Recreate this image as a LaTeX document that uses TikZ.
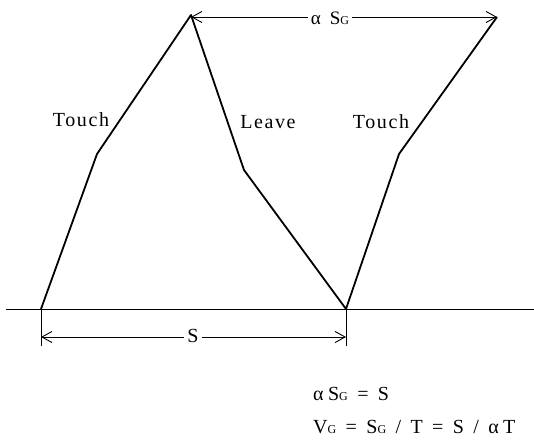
\documentclass[tikz,border=0pt]{standalone}
\usepackage{fontspec}
\setmainfont{Liberation Serif}
\newfontfamily\spaced[LetterSpace=8]{Liberation Serif}
\newfontfamily\eqfont[LetterSpace=22]{Liberation Serif}
\usetikzlibrary{arrows.meta}
\begin{document}
\begin{tikzpicture}[x=1pt,y=-1pt,
  leg/.style={line width=1.8pt, line join=round},
  thin/.style={line width=0.9pt},
  dim/.style={line width=0.9pt, {Straight Barb[length=10pt,width=11pt]}-{Straight Barb[length=10pt,width=11pt]}},
  lbl/.style={font=\spaced\fontsize{20}{22}\selectfont, inner sep=0pt},
  eq/.style={font=\eqfont\fontsize{20}{22}\selectfont, inner sep=0pt, anchor=west}]
\useasboundingbox (0,0) rectangle (534,443);
% leg points
\coordinate (lf) at (41,309);
\coordinate (lk) at (97,154);
\coordinate (top) at (191,15);
\coordinate (mk) at (244,170);
\coordinate (rf) at (346,309);
\coordinate (rk) at (399,154);
\coordinate (rt) at (497,17);
\coordinate (g0) at (6,309);
\coordinate (g1) at (534,309);
\draw[thin] (g0) -- (g1);
\draw[leg] (lf) -- (lk) -- (top) -- (mk) -- (rf) -- (rk) -- (rt);
% top dimension
\coordinate (ta) at (191,17);
\coordinate (tb) at (497,17);
\draw[dim] (ta) -- (tb);
\node[fill=white, inner sep=3pt, font=\eqfont\fontsize{19}{21}\selectfont] (asg) at (330,18) {α S{\fontsize{12}{14}\selectfont G}};
% bottom dimension
\coordinate (la) at (41,346);
\coordinate (lb) at (346,346);
\draw[thin] (lf) -- (la);
\draw[thin] (rf) -- (lb);
\coordinate (sa) at (41,337);
\coordinate (sb) at (346,337);
\draw[dim] (sa) -- (sb);
\node[fill=white, inner sep=3pt, font=\fontsize{20}{22}\selectfont] (s) at (193,336) {S};
% labels
\node[lbl] (t1) at (81,120) {Touch};
\node[lbl] (lv) at (268,122) {Leave};
\node[lbl] (t2) at (381,122) {Touch};
% equations
\node[eq] (e1) at (313,394) {αS{\fontsize{12}{14}\selectfont G} = S};
\node[eq] (e2) at (313,427) {V{\fontsize{12}{14}\selectfont G} = S{\fontsize{12}{14}\selectfont G} / T = S / αT};
\end{tikzpicture}
\end{document}
